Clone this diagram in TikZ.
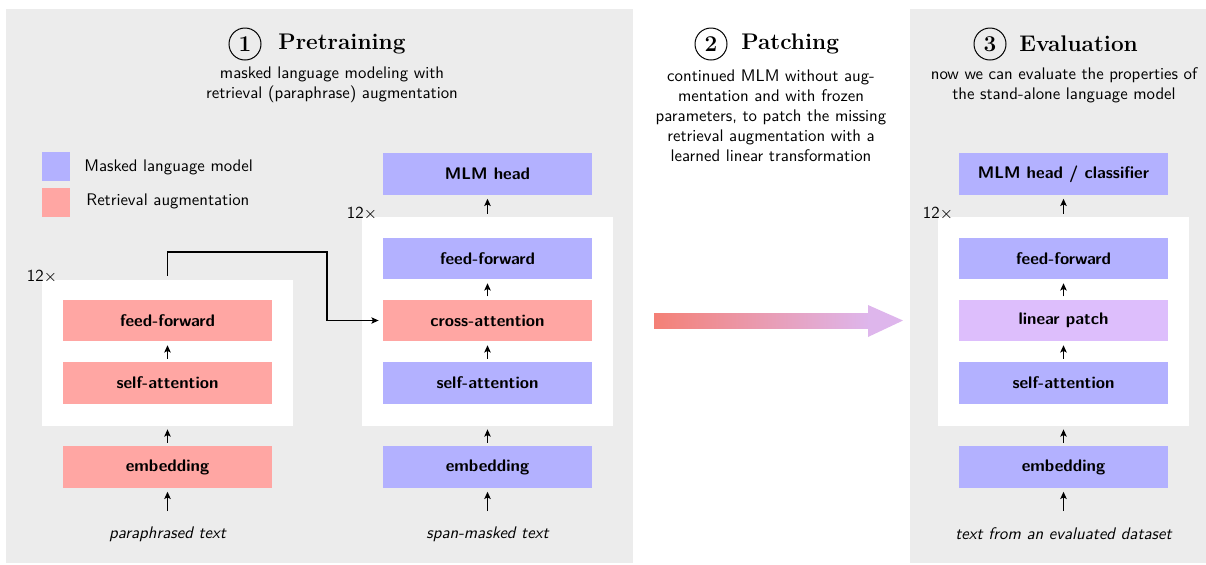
\documentclass[tikz,border=0pt]{standalone}
\usepackage{fontspec}
\setsansfont{lmsans10-regular.otf}[BoldFont=lmsans10-bold.otf,ItalicFont=lmsans10-oblique.otf,BoldItalicFont=lmsans10-boldoblique.otf]
\usetikzlibrary{arrows.meta}
\definecolor{panelgray}{RGB}{236,236,236}
\definecolor{mlmblue}{RGB}{179,177,255}
\definecolor{retred}{RGB}{255,166,163}
\definecolor{patchpurple}{RGB}{221,190,252}
\definecolor{arrsalmon}{RGB}{244,128,118}
\definecolor{arrpurple}{RGB}{222,182,236}
\begin{document}
\begin{tikzpicture}[x=0.5pt,y=-0.5pt,
  bodyfont/.style={font=\sffamily\fontsize{8.4}{10}\selectfont},
  titlefont/.style={font=\bfseries\fontsize{11.3}{13}\selectfont},
  stepnum/.style={circle,draw,line width=0.5pt,minimum size=16pt,inner sep=0pt,titlefont},
  titletext/.style={anchor=west,inner sep=0pt,titlefont},
  subtitle/.style={align=center,inner sep=0pt,bodyfont},
  layer/.style={minimum width=104.5pt,minimum height=20.75pt,inner sep=0pt,
    font=\sffamily\bfseries\fontsize{8.4}{10}\selectfont},
  mlm/.style={layer,fill=mlmblue},
  ret/.style={layer,fill=retred},
  patch/.style={layer,fill=patchpurple},
  block/.style={fill=white,minimum width=125.5pt,inner sep=0pt},
  repeatlabel/.style={inner sep=0pt,bodyfont},
  caption/.style={inner sep=0pt,font=\sffamily\itshape\fontsize{8.4}{10}\selectfont},
  arr/.style={line width=0.65pt,-{Stealth[length=3.6pt,width=3.2pt,inset=0.8pt]}},
  conn/.style={line width=0.65pt,-{Stealth[length=3.6pt,width=3.2pt,inset=0.8pt]}},
  legendsq/.style={minimum width=14pt,minimum height=14.5pt,inner sep=0pt},
]
\useasboundingbox (0,0) rectangle (1206,564);
% panels
\fill[panelgray] (6,9) rectangle (633,563);
\fill[panelgray] (910,9) rectangle (1206,563);

% titles
\node[stepnum] (n1) at (245,44) {1};
\node[titletext] (t1) at (278,44) {Pretraining};
\node[subtitle] (s1) at (332,84.5) {masked language modeling with\\retrieval (paraphrase) augmentation};

\node[stepnum] (n2) at (711,44) {2};
\node[titletext] (t2) at (741,44) {Patching};
\node[subtitle] (s2) at (771,115.5) {continued MLM without aug-\\mentation and with frozen\\parameters, to patch the missing\\retrieval augmentation with a\\learned linear transformation};

\node[stepnum] (n3) at (990,44) {3};
\node[titletext] (t3) at (1019,44) {Evaluation};
\node[subtitle] (s3) at (1064,85) {now we can evaluate the properties of\\the stand-alone language model};

% legend
\node[legendsq,fill=mlmblue] (lg1) at (56,166.5) {};
\node[anchor=west,inner sep=0pt,bodyfont] (lt1) at (84,167) {Masked language model};
\node[legendsq,fill=retred] (lg2) at (56,202) {};
\node[anchor=west,inner sep=0pt,bodyfont] (lt2) at (86,201) {Retrieval augmentation};

% left stack (retrieval encoder)
\node[block,minimum height=73pt] (lwhite) at (167.5,353) {};
\node[repeatlabel] (lrep) at (42,277) {12$\times$};
\node[ret] (lff) at (167.5,320.5) {feed-forward};
\node[ret] (lsa) at (167.5,383) {self-attention};
\node[ret] (lemb) at (167.5,467) {embedding};
\node[caption] (lcap) at (167.5,534) {paraphrased text};
\coordinate (lin) at (167.5,511);

% middle stack
\node[mlm] (mhead) at (487.5,174) {MLM head};
\node[block,minimum height=104.5pt] (mwhite) at (487.5,321.5) {};
\node[repeatlabel] (mrep) at (362,214) {12$\times$};
\node[mlm] (mff) at (487.5,258.5) {feed-forward};
\node[ret] (mca) at (487.5,320.5) {cross-attention};
\node[mlm] (msa) at (487.5,383) {self-attention};
\node[mlm] (memb) at (487.5,467) {embedding};
\node[caption] (mcap) at (487.5,534) {span-masked text};
\coordinate (min) at (487.5,511);

% right stack
\node[mlm] (rhead) at (1063.5,174) {MLM head / classifier};
\node[block,minimum height=104.5pt] (rwhite) at (1063.5,321.5) {};
\node[repeatlabel] (rrep) at (938,214) {12$\times$};
\node[mlm] (rff) at (1063.5,258.5) {feed-forward};
\node[patch] (rlp) at (1063.5,320.5) {linear patch};
\node[mlm] (rsa) at (1063.5,383) {self-attention};
\node[mlm] (remb) at (1063.5,467) {embedding};
\node[caption] (rcap) at (1063.5,534) {text from an evaluated dataset};
\coordinate (rin) at (1063.5,511);

% arrows left
\draw[arr] (lin) -- ([yshift=-1.8pt]lemb.south);
\draw[arr] ([yshift=1.5pt]lemb.north) -- ([yshift=-1.5pt]lwhite.south);
\draw[arr] ([yshift=1.5pt]lsa.north) -- ([yshift=-1.8pt]lff.south);
% arrows middle
\draw[arr] (min) -- ([yshift=-1.8pt]memb.south);
\draw[arr] ([yshift=1.5pt]memb.north) -- ([yshift=-1.5pt]mwhite.south);
\draw[arr] ([yshift=1.5pt]msa.north) -- ([yshift=-1.8pt]mca.south);
\draw[arr] ([yshift=1.5pt]mca.north) -- ([yshift=-1.8pt]mff.south);
\draw[arr] ([yshift=1.5pt]mwhite.north) -- ([yshift=-1.8pt]mhead.south);
% arrows right
\draw[arr] (rin) -- ([yshift=-1.8pt]remb.south);
\draw[arr] ([yshift=1.5pt]remb.north) -- ([yshift=-1.5pt]rwhite.south);
\draw[arr] ([yshift=1.5pt]rsa.north) -- ([yshift=-1.8pt]rlp.south);
\draw[arr] ([yshift=1.5pt]rlp.north) -- ([yshift=-1.8pt]rff.south);
\draw[arr] ([yshift=1.5pt]rwhite.north) -- ([yshift=-1.8pt]rhead.south);

% cross connection
\coordinate (bend) at (327,252);
\draw[conn] ([yshift=2pt]lwhite.north) |- (bend) |- ([xshift=-2pt]mca.west);

% big patching arrow
\shade[left color=arrsalmon,right color=arrpurple] (654,313) rectangle (869,328);
\fill[arrpurple] (868,305) -- (903,320.5) -- (868,337) -- cycle;
\end{tikzpicture}
\end{document}
